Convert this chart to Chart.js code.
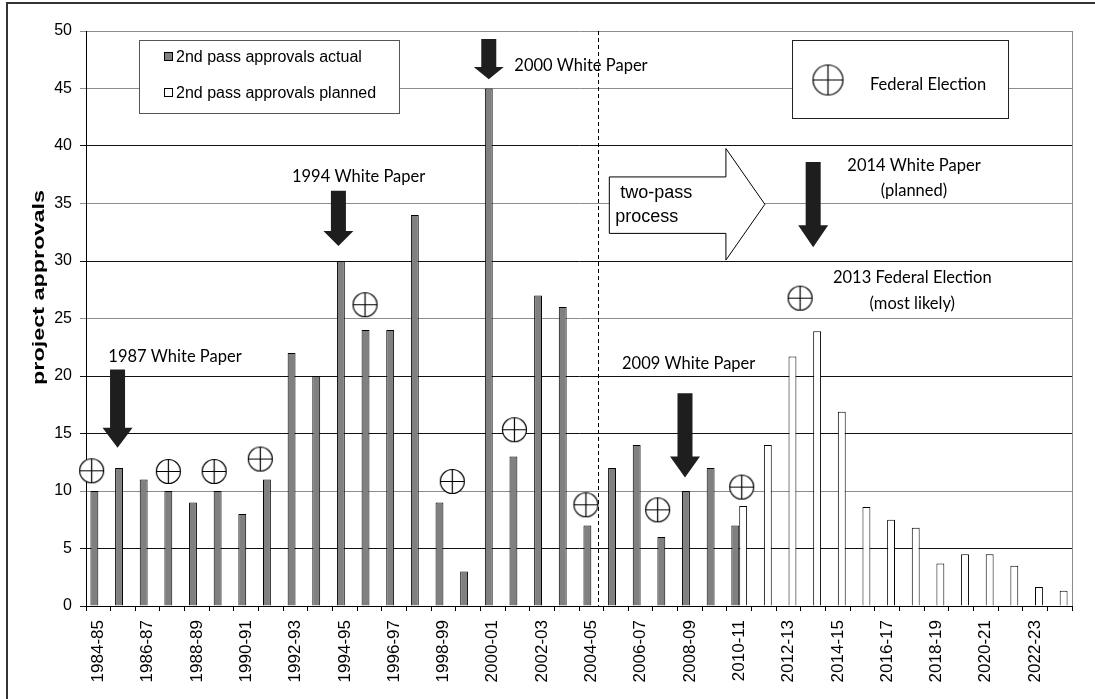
<!DOCTYPE html>
<html>
<head>
<meta charset="utf-8">
<script src="https://cdn.jsdelivr.net/npm/chart.js@4.4.1/dist/chart.umd.min.js"></script>
<style>
  html, body { margin: 0; padding: 0; background: #fff; }
  #chart { display: block; }
</style>
</head>
<body>
<canvas id="chart" width="1095" height="699"></canvas>
<script>
// financial years on the x axis
const seasons = [
  '1984-85', '1985-86', '1986-87', '1987-88', '1988-89', '1989-90', '1990-91', '1991-92',
  '1992-93', '1993-94', '1994-95', '1995-96', '1996-97', '1997-98', '1998-99', '1999-00',
  '2000-01', '2001-02', '2002-03', '2003-04', '2004-05', '2005-06', '2006-07', '2007-08',
  '2008-09', '2009-10', '2010-11', '2011-12', '2012-13', '2013-14', '2014-15', '2015-16',
  '2016-17', '2017-18', '2018-19', '2019-20', '2020-21', '2021-22', '2022-23', '2023-24'
];
// only every other year is printed under the axis
const shownTicks = [
  '1984-85', '1986-87', '1988-89', '1990-91', '1992-93', '1994-95', '1996-97', '1998-99',
  '2000-01', '2002-03', '2004-05', '2006-07', '2008-09', '2010-11', '2012-13', '2014-15',
  '2016-17', '2018-19', '2020-21', '2022-23'
];

const actual = [
  10, 12, 11, 10, 9, 10, 8, 11, 22, 20, 30, 24, 24, 34, 9, 3, 45, 13, 27, 26,
  7, 12, 14, 6, 10, 12, 7,
  null, null, null, null, null, null, null, null, null, null, null, null, null
];
const planned = [
  null, null, null, null, null, null, null, null, null, null, null, null, null,
  null, null, null, null, null, null, null, null, null, null, null, null, null,
  8.7, 14, 21.7, 23.9, 16.9, 8.6, 7.5, 6.8, 3.7, 4.5, 4.5, 3.5, 1.65, 1.33
];

// federal elections, x in category units (0 = left edge of 1984-85)
const electionX = [0.23, 3.34, 5.2, 7.07, 11.32, 14.86, 17.38, 20.28, 23.19, 26.6, 28.97];
const electionY = [11.76, 11.7, 11.7, 12.78, 26.2, 10.83, 15.33, 8.8, 8.36, 10.34, 26.77];

// white paper arrows (x in category units, y in approvals)
const paperArrows = [
  { x: 1.28, top: 20.56, head: 15.5, tip: 13.76 },
  { x: 10.24, top: 36.1, head: 32.6, tip: 31.3 },
  { x: 16.34, top: 49.3, head: 46.86, tip: 45.8 },
  { x: 24.3, top: 18.5, head: 13.0, tip: 11.18 },
  { x: 29.5, top: 38.6, head: 33.1, tip: 31.2 }
];
const notes = [
  { lines: ['1987 White Paper'], x: 3.61, y: 21.69 },
  { lines: ['1994 White Paper'], x: 11.06, y: 37.3 },
  { lines: ['2000 White Paper'], x: 20.08, y: 46.95 },
  { lines: ['2009 White Paper'], x: 24.45, y: 21.1 },
  { lines: ['2014 White Paper', '(planned)'], x: 33.59, y: 38.33 },
  { lines: ['2013 Federal Election', '(most likely)'], x: 33.52, y: 28.55 }
];
// start of the two-pass process
const twoPassLine = 20.76;
const twoPassShape = { left: 21.23, headBase: 25.96, tip: 27.54, bodyTop: 37.31, bodyBottom: 32.4, headTop: 39.78, headBottom: 30.08, tipY: 34.93 };

const ARIAL = "'Liberation Sans', Arial, sans-serif";
const CALIBRI = "Lato, 'Open Sans', sans-serif";

function electionSymbol(r) {
  const c = document.createElement('canvas');
  const s = Math.ceil(r * 2 + 3);
  c.width = s; c.height = s;
  const g = c.getContext('2d');
  const m = s / 2;
  g.fillStyle = '#fff';
  g.strokeStyle = '#000';
  g.lineWidth = 1.2;
  g.beginPath(); g.arc(m, m, r, 0, Math.PI * 2); g.fill(); g.stroke();
  g.beginPath();
  g.moveTo(m - r, m); g.lineTo(m + r, m);
  g.moveTo(m, m - r); g.lineTo(m, m + r);
  g.stroke();
  return c;
}

function downArrow(ctx, cx, yTop, yHead, yTip) {
  ctx.beginPath();
  ctx.moveTo(cx - 7.5, yTop);
  ctx.lineTo(cx + 7.5, yTop);
  ctx.lineTo(cx + 7.5, yHead);
  ctx.lineTo(cx + 15, yHead);
  ctx.lineTo(cx, yTip);
  ctx.lineTo(cx - 15, yHead);
  ctx.lineTo(cx - 7.5, yHead);
  ctx.closePath();
  ctx.fillStyle = '#1e1e1e';
  ctx.fill();
}

const extras = {
  id: 'extras',
  beforeDraw(chart) {
    const ctx = chart.ctx;
    ctx.save();
    ctx.fillStyle = '#fff';
    ctx.fillRect(0, 0, chart.width, chart.height);
    ctx.strokeStyle = '#333';
    ctx.lineWidth = 2;
    ctx.beginPath();
    ctx.moveTo(7, chart.height);
    ctx.lineTo(7, 3);
    ctx.lineTo(chart.width, 3);
    ctx.stroke();

    // y axis title, stretched along its length as in the original
    ctx.translate(40, 287.5);
    ctx.rotate(-Math.PI / 2);
    ctx.font = 'bold 16px ' + ARIAL;
    const w = ctx.measureText('project approvals').width;
    ctx.scale(195 / w, 1);
    ctx.fillStyle = '#000';
    ctx.textAlign = 'center';
    ctx.textBaseline = 'middle';
    ctx.fillText('project approvals', 0, 0);
    ctx.restore();
  },
  afterDatasetsDraw(chart) {
    const ctx = chart.ctx;
    const xs = chart.scales.xm, ys = chart.scales.y;
    const a = chart.chartArea;
    ctx.save();

    // plot area right edge
    ctx.strokeStyle = '#8c8c8c';
    ctx.lineWidth = 1;
    ctx.beginPath();
    ctx.moveTo(Math.round(a.right) + 0.5, a.top);
    ctx.lineTo(Math.round(a.right) + 0.5, a.bottom);
    ctx.stroke();

    // dashed line: two-pass process introduced
    const dx = Math.round(xs.getPixelForValue(twoPassLine)) + 0.5;
    ctx.strokeStyle = '#000';
    ctx.setLineDash([4, 3]);
    ctx.beginPath();
    ctx.moveTo(dx, a.top);
    ctx.lineTo(dx, a.bottom);
    ctx.stroke();
    ctx.setLineDash([]);

    // federal election markers
    const sym = electionSymbol(12);
    electionX.forEach((x, i) => {
      ctx.drawImage(sym, xs.getPixelForValue(x) - sym.width / 2, ys.getPixelForValue(electionY[i]) - sym.height / 2);
    });

    // legend for the bar series
    const lx = a.left + 53, ly = a.top + 9;
    ctx.fillStyle = '#fff';
    ctx.fillRect(lx, ly, 260, 73);
    ctx.strokeStyle = '#555';
    ctx.strokeRect(lx + 0.5, ly + 0.5, 260, 73);
    ctx.font = '16px ' + ARIAL;
    ctx.textBaseline = 'middle';
    ctx.textAlign = 'left';
    chart.data.datasets.forEach((d, i) => {
      const y = ly + 17 + i * 36;
      ctx.fillStyle = d.backgroundColor;
      ctx.fillRect(lx + 25.5, y - 4.5, 8, 8);
      ctx.strokeStyle = '#000';
      ctx.strokeRect(lx + 25.5, y - 4.5, 8, 8);
      ctx.fillStyle = '#000';
      ctx.fillText(d.label, lx + 37, y + 1);
    });

    // legend for the election symbol
    const fx = 792, fy = 40;
    ctx.fillStyle = '#fff';
    ctx.fillRect(fx, fy, 216, 78);
    ctx.strokeStyle = '#222';
    ctx.strokeRect(fx + 0.5, fy + 0.5, 216, 78);
    const big = electionSymbol(15);
    ctx.drawImage(big, fx + 36 - big.width / 2, fy + 40 - big.height / 2);
    ctx.fillStyle = '#000';
    ctx.font = '16.5px ' + CALIBRI;
    ctx.fillText('Federal Election', fx + 78, fy + 45);

    // two-pass process arrow
    const s = twoPassShape;
    ctx.beginPath();
    ctx.moveTo(xs.getPixelForValue(s.left), ys.getPixelForValue(s.bodyTop));
    ctx.lineTo(xs.getPixelForValue(s.headBase), ys.getPixelForValue(s.bodyTop));
    ctx.lineTo(xs.getPixelForValue(s.headBase), ys.getPixelForValue(s.headTop));
    ctx.lineTo(xs.getPixelForValue(s.tip), ys.getPixelForValue(s.tipY));
    ctx.lineTo(xs.getPixelForValue(s.headBase), ys.getPixelForValue(s.headBottom));
    ctx.lineTo(xs.getPixelForValue(s.headBase), ys.getPixelForValue(s.bodyBottom));
    ctx.lineTo(xs.getPixelForValue(s.left), ys.getPixelForValue(s.bodyBottom));
    ctx.closePath();
    ctx.fillStyle = '#fff';
    ctx.fill();
    ctx.strokeStyle = '#000';
    ctx.lineWidth = 1;
    ctx.stroke();
    ctx.fillStyle = '#000';
    ctx.font = '18px ' + ARIAL;
    ctx.fillText(' two-pass', xs.getPixelForValue(s.left) + 6, ys.getPixelForValue(35.89));
    ctx.fillText('process', xs.getPixelForValue(s.left) + 6, ys.getPixelForValue(33.86));

    // white paper arrows and notes
    paperArrows.forEach(p => {
      downArrow(ctx, xs.getPixelForValue(p.x), ys.getPixelForValue(p.top),
        ys.getPixelForValue(p.head), ys.getPixelForValue(p.tip));
    });
    ctx.fillStyle = '#000';
    ctx.font = '16.5px ' + CALIBRI;
    ctx.textAlign = 'center';
    notes.forEach(n => {
      n.lines.forEach((t, i) => {
        ctx.fillText(t, xs.getPixelForValue(n.x), ys.getPixelForValue(n.y) + i * 25.7);
      });
    });
    ctx.restore();
  }
};

const grayGrid = [50, 45, 35, 25, 10];

new Chart(document.getElementById('chart'), {
  type: 'bar',
  data: {
    labels: seasons,
    datasets: [
      {
        label: '2nd pass approvals actual',
        data: actual,
        backgroundColor: '#808080',
        borderColor: '#000',
        borderWidth: 1
      },
      {
        label: '2nd pass approvals planned',
        data: planned,
        backgroundColor: '#fff',
        borderColor: '#000',
        borderWidth: 1
      }
    ]
  },
  options: {
    responsive: false,
    animation: false,
    events: [],
    layout: { padding: { top: 31, right: 23, left: 0, bottom: 0 } },
    datasets: { bar: { categoryPercentage: 0.64, barPercentage: 1 } },
    plugins: { legend: { display: false }, tooltip: { enabled: false } },
    scales: {
      x: {
        type: 'category',
        offset: true,
        grid: { offset: true, drawOnChartArea: false, tickLength: 5, color: '#000' },
        border: { color: '#000' },
        ticks: {
          autoSkip: false,
          minRotation: 90,
          maxRotation: 90,
          padding: 9,
          color: '#000',
          font: { family: ARIAL, size: 17 },
          callback: function (v) {
            const l = this.getLabelForValue(v);
            return shownTicks.includes(l) ? l : '';
          }
        },
        afterFit: s => { s.height = 93; }
      },
      // helper scale for the annotations, one unit per year
      xm: { type: 'linear', display: false, offset: false, grid: { offset: false }, min: 0, max: 40 },
      y: {
        min: 0,
        max: 50,
        ticks: { stepSize: 5, padding: 8, color: '#000', font: { family: ARIAL, size: 16 } },
        grid: {
          tickLength: 6,
          color: c => grayGrid.includes(c.tick && c.tick.value) ? '#8c8c8c' : '#111'
        },
        border: { color: '#000' },
        title: { display: false },
        afterFit: s => { s.width = 86; }
      }
    }
  },
  plugins: [extras]
});
</script>
</body>
</html>
